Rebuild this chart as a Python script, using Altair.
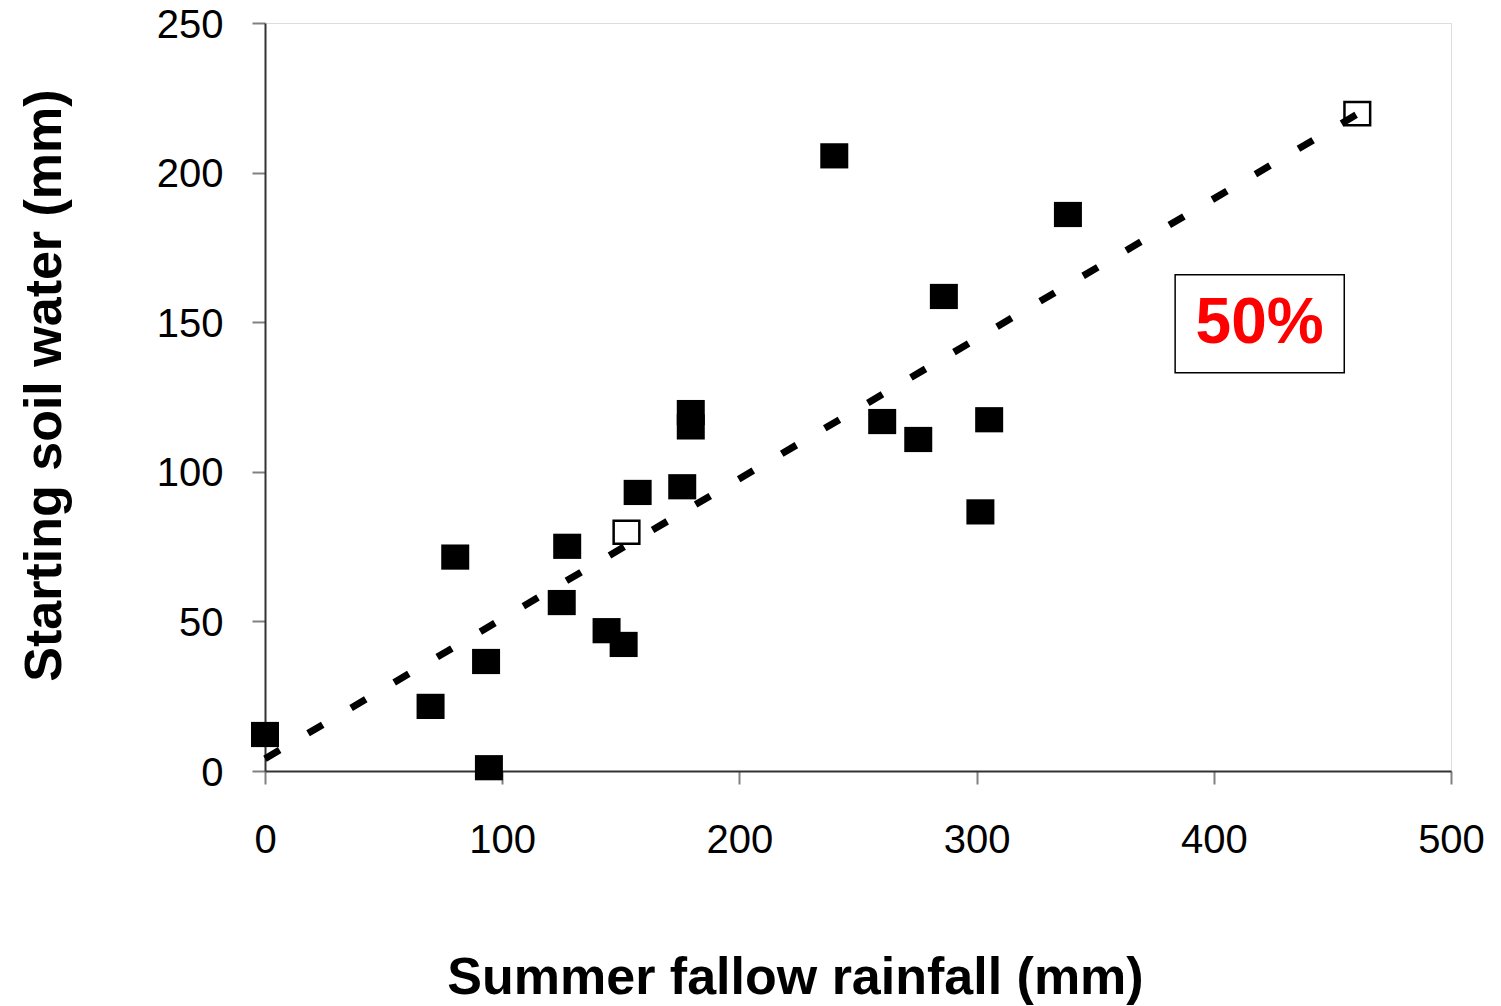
import altair as alt
import pandas as pd

# Filled squares (summer fallow rainfall mm, starting soil water mm)
filled_x = [0, 69.8, 80.2, 93.2, 94.4, 125.1, 127.4, 144.0, 151.2, 157.1, 175.9, 179.5, 179.5,
            240.0, 260.2, 275.4, 286.2, 301.6, 305.3, 338.5]
filled_y = [12.2, 21.6, 71.5, 36.6, 1.1, 56.3, 75.1, 46.9, 42.3, 93.1, 95.0, 119.8, 115.0,
            205.6, 116.8, 110.8, 158.6, 86.6, 117.4, 186.0]

# Open squares
open_x = [152.4, 460.5]
open_y = [79.8, 219.7]

# Trend line end points
trend_x = [0, 461]
trend_y = [4.1, 219.8]

# Annotation box and label
box_x = [383.7]
box_x2 = [455.0]
box_y = [133.1]
box_y2 = [165.9]
label_text = ["50%"]
label_x = [419.3]
label_y = [149.5]

x_ticks = [0, 100, 200, 300, 400, 500]
y_ticks = [0, 50, 100, 150, 200, 250]

FONT = "Liberation Sans"

xscale = alt.Scale(domain=[0, 500], nice=False, zero=True)
yscale = alt.Scale(domain=[0, 250], nice=False, zero=True)

x_axis = alt.Axis(
    title="Summer fallow rainfall (mm)", values=x_ticks, grid=False,
    labelFontSize=40, labelFont=FONT, labelColor="black", labelPadding=36,
    labelFlush=False, labelOverlap=False,
    tickSize=13, tickColor="#808080", tickWidth=2,
    domainColor="#333333", domainWidth=2,
    titleFont=FONT, titleFontSize=52, titleFontWeight="bold", titleColor="black",
    titleX=530, titleY=222, titleBaseline="alphabetic", titleAlign="center",
)
y_axis = alt.Axis(
    title="Starting soil water (mm)", values=y_ticks, grid=False,
    labelFontSize=40, labelFont=FONT, labelColor="black", labelPadding=29,
    labelFlush=False, labelOverlap=False, labelOffset=2,
    tickSize=13, tickColor="#808080", tickWidth=2,
    domainColor="#333333", domainWidth=2,
    titleFont=FONT, titleFontSize=52, titleFontWeight="bold", titleColor="black",
    titleX=-205, titleY=362, titleBaseline="alphabetic", titleAlign="center", titleAngle=270,
)

df_filled = pd.DataFrame({"x": filled_x, "y": filled_y})
df_open = pd.DataFrame({"x": open_x, "y": open_y})
df_trend = pd.DataFrame({"x": trend_x, "y": trend_y})
df_box = pd.DataFrame({"x": box_x, "x2": box_x2, "y": box_y, "y2": box_y2})
df_label = pd.DataFrame({"x": label_x, "y": label_y, "t": label_text})

rect_shape = "M-1,-0.9 L1,-0.9 L1,0.9 L-1,0.9 Z"

filled = alt.Chart(df_filled).mark_point(
    shape=rect_shape, filled=True, color="black", opacity=1, size=784
).encode(
    x=alt.X("x:Q", scale=xscale, axis=x_axis),
    y=alt.Y("y:Q", scale=yscale, axis=y_axis),
)

opened = alt.Chart(df_open).mark_point(
    shape=rect_shape, filled=True, fill="white", stroke="black", strokeWidth=2.5,
    opacity=1, size=660
).encode(x="x:Q", y="y:Q")

trend = alt.Chart(df_trend).mark_line(
    color="black", strokeWidth=7, strokeDash=[17, 33], strokeCap="butt"
).encode(x="x:Q", y="y:Q")

box = alt.Chart(df_box).mark_rect(
    fill="white", stroke="black", strokeWidth=1.5
).encode(x="x:Q", x2="x2", y="y:Q", y2="y2")

label = alt.Chart(df_label).mark_text(
    font=FONT, fontSize=64, fontWeight="bold", color="#FF0000",
    align="center", baseline="middle"
).encode(x="x:Q", y="y:Q", text="t:N")

chart = alt.layer(filled, opened, trend, box, label).properties(
    width=1186, height=748,
    autosize=alt.AutoSizeParams(type="none"),
    padding={"left": 257, "top": 15, "right": 40, "bottom": 235},
).configure_view(
    stroke="#999999", strokeWidth=2
).configure(background="white")

chart.save("out.html", embed_options={"renderer": "svg", "actions": False})
